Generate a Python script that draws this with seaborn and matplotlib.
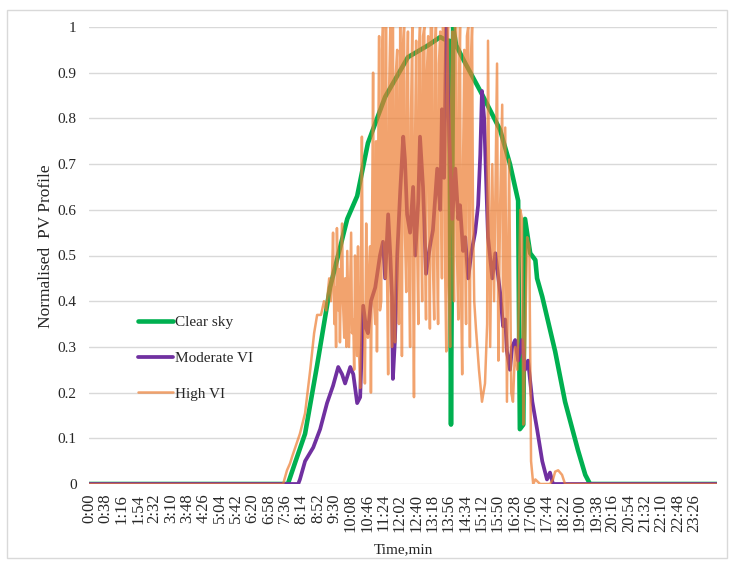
import matplotlib
matplotlib.use('Agg')
import matplotlib.pyplot as plt
from matplotlib.patches import Rectangle
import pandas as pd
import seaborn as sns

# (time of day in minutes, normalised PV output)
clear_sky = [
    (0, 0), (462, 0), (480, 0.05), (502, 0.11), (530, 0.26), (560, 0.43), (600, 0.58),
    (623, 0.63), (648, 0.746), (688, 0.847), (741, 0.934), (788, 0.96), (816, 0.978),
    (832, 0.97), (837, 0.97), (841, 0.13), (846, 1.0), (853, 0.96), (869, 0.93), (909, 0.86),
    (920, 0.84), (955, 0.775), (978, 0.70), (997, 0.62), (1001, 0.12), (1009, 0.13),
    (1013, 0.58), (1025, 0.505), (1037, 0.49), (1041, 0.45), (1053, 0.41), (1083, 0.29),
    (1106, 0.18), (1136, 0.074), (1153, 0.02), (1164, 0), (1459, 0),
]

moderate_vi = [
    (0, 0), (486, 0), (490, 0.01), (502, 0.05), (521, 0.08), (537, 0.12), (553, 0.177),
    (567, 0.215), (579, 0.256), (588, 0.24), (595, 0.22), (607, 0.256), (614, 0.24),
    (623, 0.177), (630, 0.19), (637, 0.39), (644, 0.34), (648, 0.33), (655, 0.40),
    (665, 0.43), (676, 0.50), (683, 0.53), (688, 0.45), (695, 0.59), (700, 0.50),
    (704, 0.41), (706, 0.23), (711, 0.32), (716, 0.50), (723, 0.64), (730, 0.76),
    (734, 0.71), (739, 0.59), (746, 0.55), (753, 0.65), (758, 0.50), (765, 0.62),
    (769, 0.76), (776, 0.65), (783, 0.46), (792, 0.52), (799, 0.555), (809, 0.69),
    (816, 0.60), (820, 0.82), (825, 0.67), (830, 1.0), (837, 0.76), (844, 0.58),
    (851, 0.69), (858, 0.58), (862, 0.61), (869, 0.51), (874, 0.54), (881, 0.45),
    (888, 0.505), (897, 0.55), (904, 0.61), (909, 0.72), (913, 0.86), (918, 0.80),
    (927, 0.54), (937, 0.45), (944, 0.505), (955, 0.42), (962, 0.345), (967, 0.36),
    (971, 0.29), (978, 0.25), (983, 0.30), (990, 0.315), (997, 0.27), (1006, 0.315),
    (1013, 0.25), (1020, 0.27), (1030, 0.18), (1041, 0.12), (1053, 0.05), (1064, 0.01),
    (1071, 0.025), (1078, 0), (1459, 0),
]

high_vi = [
    (0, 0), (451, 0), (460, 0.03), (467, 0.045), (472, 0.06), (490, 0.11), (502, 0.155),
    (514, 0.25), (523, 0.33), (530, 0.37), (539, 0.37), (546, 0.40), (551, 0.38),
    (558, 0.45), (562, 0.40), (565, 0.47), (567, 0.55), (570, 0.35), (572, 0.43),
    (574, 0.30), (576, 0.56), (579, 0.38), (581, 0.47), (583, 0.31), (586, 0.50),
    (588, 0.57), (590, 0.40), (593, 0.32), (595, 0.45), (598, 0.30), (600, 0.51),
    (602, 0.40), (604, 0.30), (607, 0.45), (609, 0.55), (611, 0.33), (614, 0.36),
    (616, 0.25), (618, 0.50), (620, 0.35), (623, 0.28), (625, 0.52), (627, 0.30),
    (630, 0.21), (632, 0.50), (634, 0.76), (636, 0.40), (639, 0.35), (641, 0.22),
    (644, 0.57), (646, 0.40), (648, 0.32), (650, 0.45), (653, 0.52), (655, 0.20),
    (658, 0.62), (660, 0.90), (662, 0.40), (665, 0.35), (667, 0.75), (669, 0.29),
    (671, 0.60), (674, 0.98), (676, 0.38), (679, 0.40), (681, 0.95), (683, 1.0),
    (685, 0.55), (688, 0.45), (690, 1.0), (692, 0.50), (695, 0.24), (697, 0.85),
    (700, 1.0), (702, 0.42), (704, 0.30), (706, 1.0), (708, 0.60), (711, 0.31),
    (713, 0.90), (716, 0.95), (718, 0.45), (720, 0.35), (723, 1.0), (725, 0.70),
    (727, 0.28), (729, 0.95), (732, 1.0), (734, 0.55), (737, 0.42), (739, 0.88),
    (741, 0.99), (743, 0.50), (746, 0.30), (748, 0.80), (751, 1.0), (753, 0.45),
    (755, 0.19), (757, 0.70), (760, 0.97), (762, 0.55), (765, 0.35), (767, 0.95),
    (769, 1.0), (771, 0.60), (774, 0.40), (776, 0.98), (779, 1.0), (781, 0.50),
    (783, 0.36), (785, 0.90), (788, 0.98), (790, 0.62), (792, 0.34), (794, 1.0),
    (797, 1.0), (799, 0.48), (802, 0.36), (804, 0.95), (806, 1.0), (808, 0.55),
    (811, 0.35), (813, 0.92), (816, 0.99), (818, 0.60), (820, 0.45), (822, 1.0),
    (825, 1.0), (827, 0.50), (830, 0.29), (832, 0.85), (834, 1.0), (836, 0.45),
    (839, 0.30), (841, 0.80), (844, 0.99), (846, 0.55), (848, 0.40), (850, 1.0),
    (853, 1.0), (855, 0.50), (858, 0.36), (860, 0.90), (862, 1.0), (864, 0.45),
    (867, 0.24), (869, 0.70), (872, 0.95), (874, 0.50), (876, 0.35), (878, 0.98),
    (881, 1.0), (883, 0.55), (885, 0.30), (887, 0.92), (890, 1.0), (892, 0.60),
    (895, 0.40), (899, 0.34), (906, 0.25), (913, 0.18), (920, 0.22), (925, 0.35),
    (927, 0.97), (932, 0.30), (937, 0.70), (941, 0.40), (948, 0.92), (951, 0.27),
    (955, 0.60), (960, 0.83), (962, 0.29), (967, 0.78), (971, 0.18), (976, 0.71),
    (981, 0.20), (985, 0.18), (990, 0.30), (995, 0.25), (997, 0.32), (1002, 0.60),
    (1006, 0.58), (1009, 0.13), (1013, 0.30), (1018, 0.54), (1023, 0.52), (1027, 0.05),
    (1032, 0.0), (1037, 0.01), (1048, 0.0), (1071, 0.0), (1078, 0.01), (1083, 0.027),
    (1090, 0.03), (1099, 0.02), (1106, 0), (1459, 0),
]

tick_minutes = list(range(0, 1440, 38))
tick_labels = ['%d:%02d' % (m // 60, m % 60) for m in tick_minutes]
y_ticks = [0, 0.1, 0.2, 0.3, 0.4, 0.5, 0.6, 0.7, 0.8, 0.9, 1]
y_labels = ['0', '0.1', '0.2', '0.3', '0.4', '0.5', '0.6', '0.7', '0.8', '0.9', '1']

sns.set_theme(style='white')
plt.rcParams['font.family'] = ['Liberation Serif', 'DejaVu Serif']
plt.rcParams['font.size'] = 11

fig = plt.figure(figsize=(7.3, 5.61), dpi=100)
ax = fig.add_axes([89 / 730, 77 / 561, 628 / 730, 457 / 561])

clear = pd.DataFrame(clear_sky, columns=['t', 'v'])
moderate = pd.DataFrame(moderate_vi, columns=['t', 'v'])
high = pd.DataFrame(high_vi, columns=['t', 'v'])

sns.lineplot(data=clear, x='t', y='v', color='#00B050', linewidth=3.3,
             estimator=None, sort=False, label='Clear sky', ax=ax)
sns.lineplot(data=moderate, x='t', y='v', color='#7030A0', linewidth=2.7,
             estimator=None, sort=False, label='Moderate VI', ax=ax)
sns.lineplot(data=high, x='t', y='v', color='#ED7D31', linewidth=1.8, alpha=0.7,
             estimator=None, sort=False, label='High VI', ax=ax)

ax.set_xlim(0, 1459)
ax.set_ylim(0, 1)
ax.set_yticks(y_ticks)
ax.set_yticklabels(y_labels, fontsize=11)
ax.set_xticks(tick_minutes)
ax.set_xticklabels(tick_labels, rotation=90, fontsize=12)
ax.tick_params(axis='both', length=0)
ax.tick_params(axis='y', pad=9)
ax.tick_params(axis='x', pad=7)

ax.yaxis.grid(True, color='#D9D9D9', linewidth=1)
ax.xaxis.grid(False)
ax.set_axisbelow(True)
for s in ax.spines.values():
    s.set_visible(False)

ax.set_xlabel('Time,min', fontsize=11)
ax.xaxis.set_label_coords(0.5, -0.13)
ax.set_ylabel('Normalised  PV Profile', fontsize=12.5)
ax.yaxis.set_label_coords(-0.056, 0.52)

ax.legend(loc='center left', bbox_to_anchor=(138 / 730, 203 / 561),
          bbox_transform=fig.transFigure, frameon=False, fontsize=11,
          labelspacing=1.45, handlelength=2.3, handletextpad=0.15, borderpad=0,
          borderaxespad=0)

fig.patches.append(Rectangle((7 / 730, 3 / 561), 720 / 730, 548 / 561,
                             transform=fig.transFigure, fill=False,
                             edgecolor='#D9D9D9', linewidth=1))

fig.savefig('out.png', dpi=100)
